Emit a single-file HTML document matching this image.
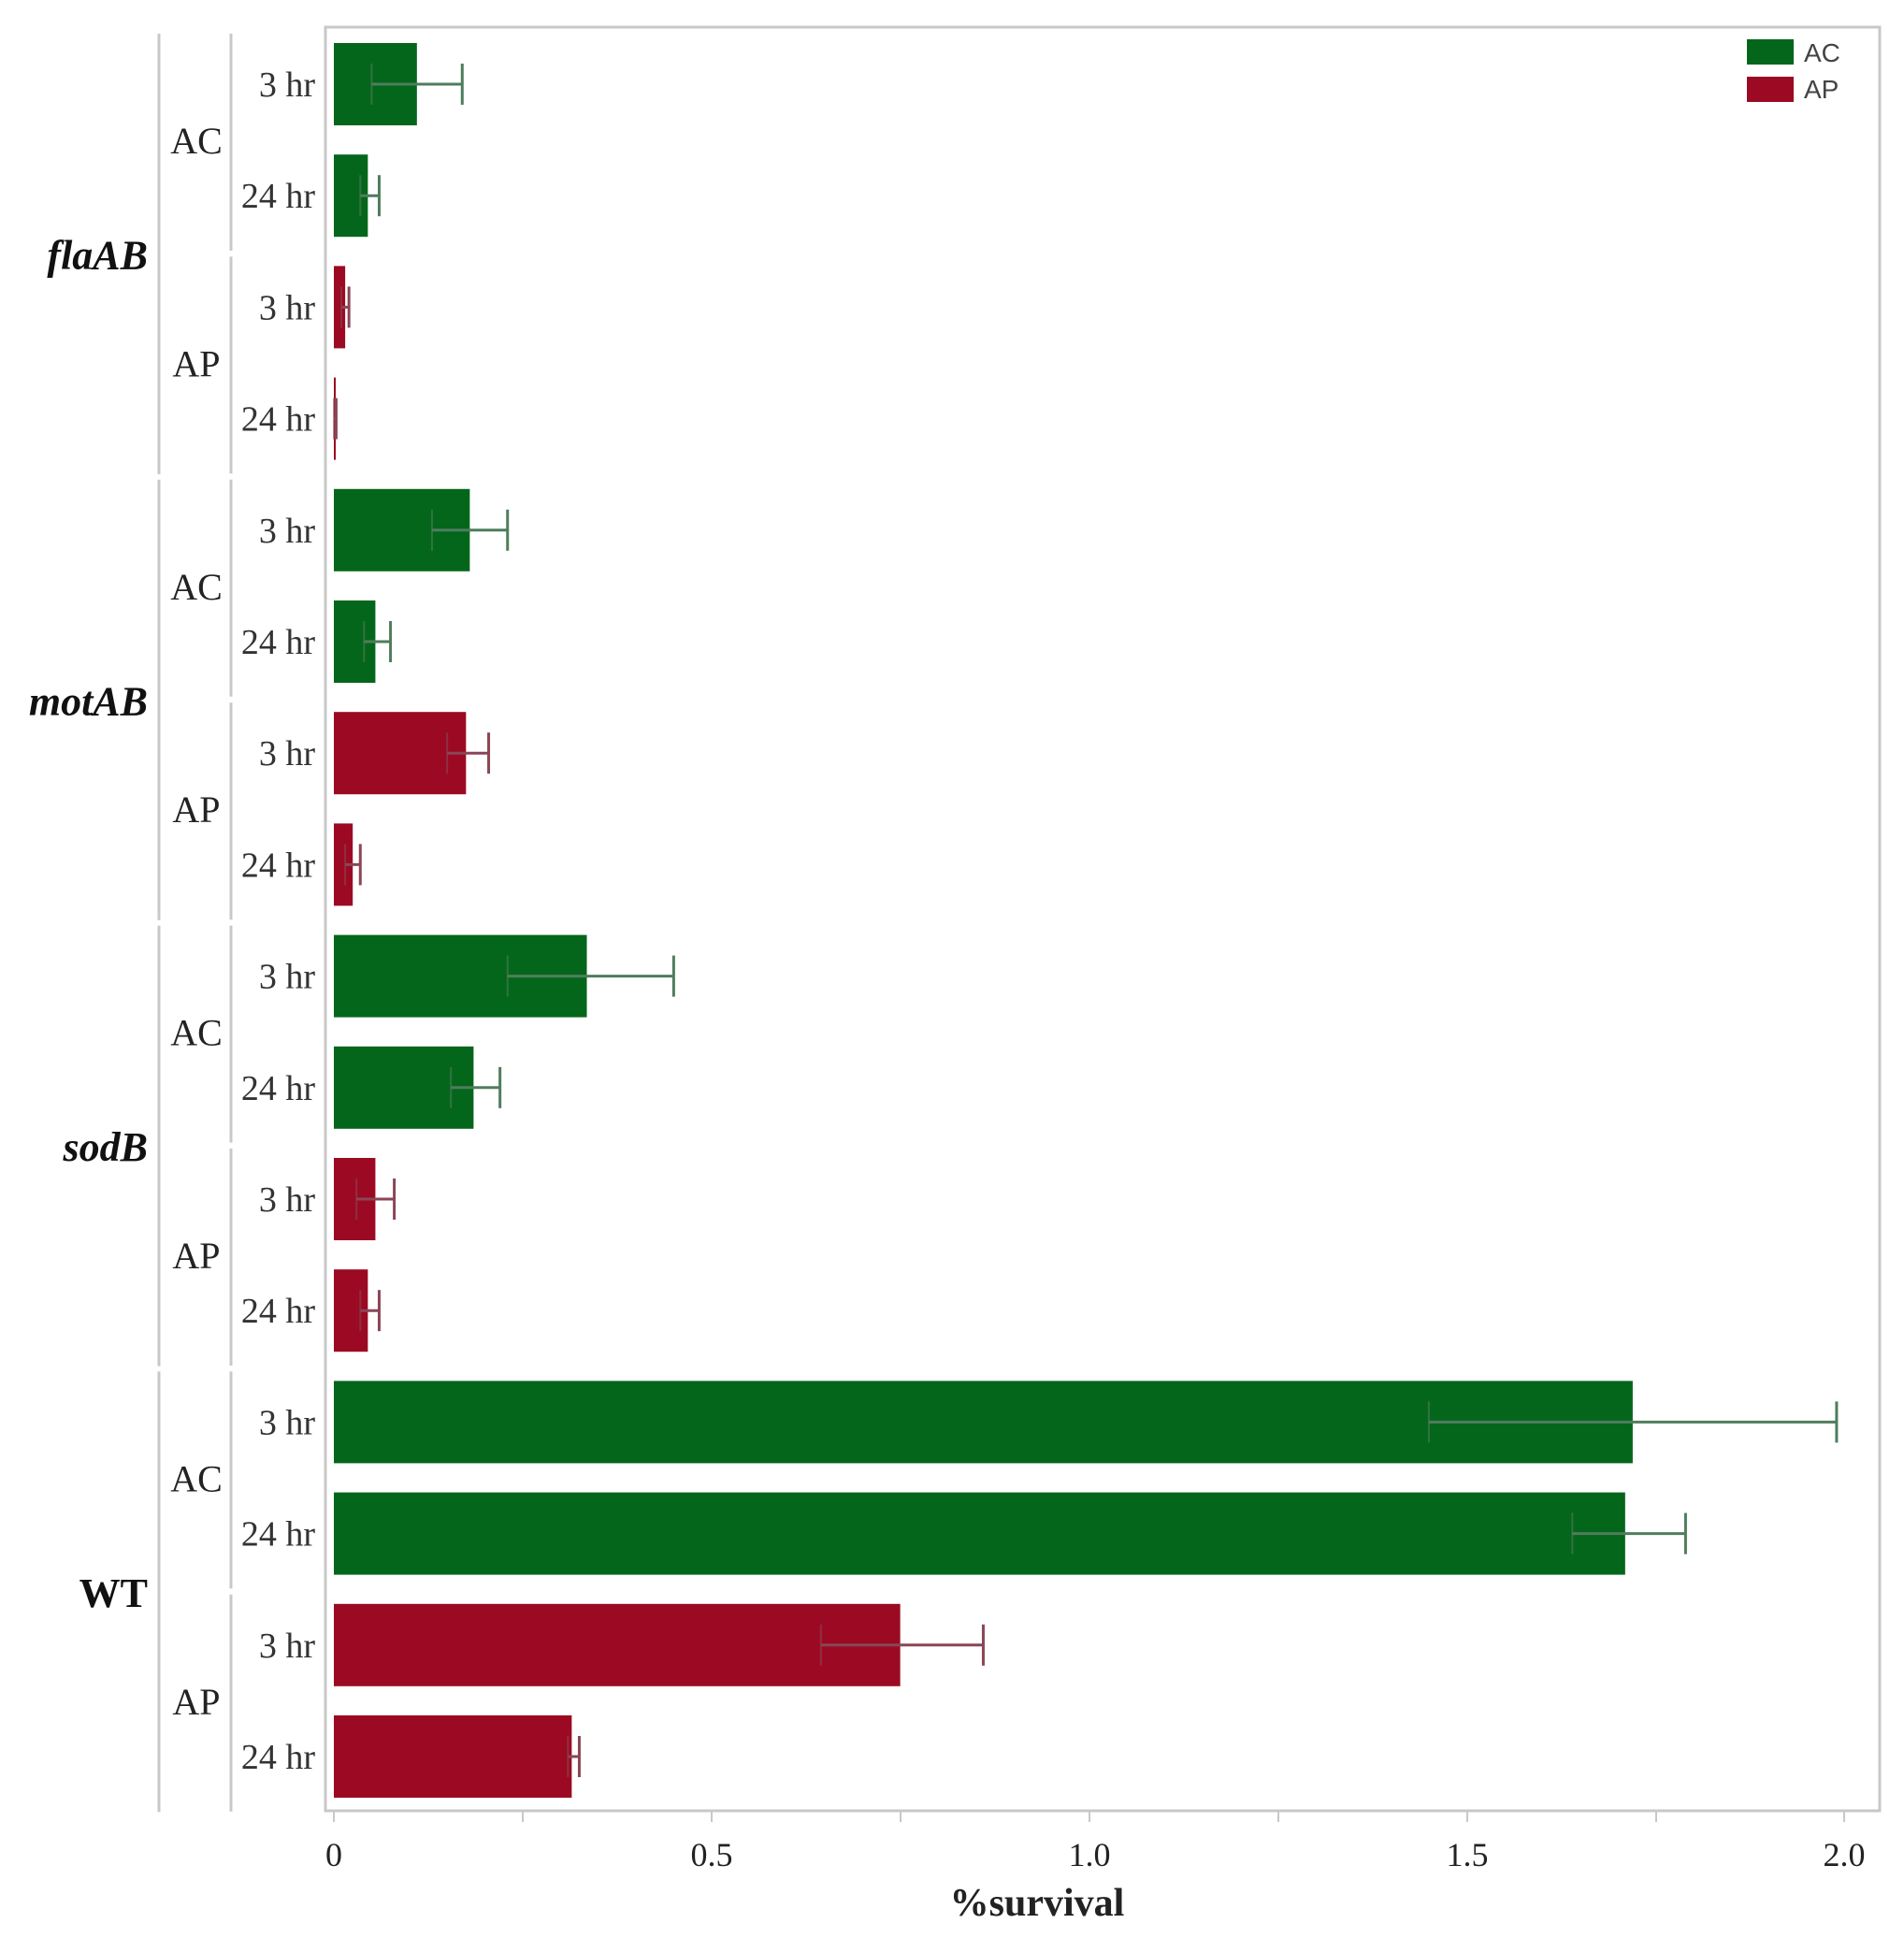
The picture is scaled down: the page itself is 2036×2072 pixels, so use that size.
<!DOCTYPE html>
<html><head><meta charset="utf-8"><style>
html,body{margin:0;padding:0;background:#fff}
svg{display:block}
text{font-family:"Liberation Serif",serif}
</style></head><body>
<svg width="2036" height="2072" viewBox="0 0 2036 2072" xmlns="http://www.w3.org/2000/svg">
<rect x="0" y="0" width="2036" height="2072" fill="#fff"/>
<rect x="348" y="29" width="1662" height="1907" fill="none" stroke="#c8c8c8" stroke-width="3"/>
<g id="bars"></g>
<g stroke="#c8c8c8" stroke-width="2">
<line x1="357" y1="1936" x2="357" y2="1948"/><line x1="559" y1="1936" x2="559" y2="1948"/>
<line x1="761" y1="1936" x2="761" y2="1948"/><line x1="963" y1="1936" x2="963" y2="1948"/>
<line x1="1165" y1="1936" x2="1165" y2="1948"/><line x1="1367" y1="1936" x2="1367" y2="1948"/>
<line x1="1569" y1="1936" x2="1569" y2="1948"/><line x1="1771" y1="1936" x2="1771" y2="1948"/>
<line x1="1972" y1="1936" x2="1972" y2="1948"/>
</g>
<g font-size="36" fill="#222" text-anchor="middle">
<text x="357" y="1995">0</text><text x="761" y="1995">0.5</text><text x="1165" y="1995">1.0</text><text x="1569" y="1995">1.5</text><text x="1972" y="1995">2.0</text>
</g>
<text x="1109" y="2048" font-size="42" font-weight="bold" text-anchor="middle" fill="#222">%survival</text>
<rect x="1868" y="42" width="50" height="27" fill="#04661a"/>
<rect x="1868" y="82" width="50" height="27" fill="#9b0a22"/>
<g font-size="28" fill="#444"><text x="1929" y="66" style="font-family:'Liberation Sans',sans-serif">AC</text><text x="1929" y="105" style="font-family:'Liberation Sans',sans-serif">AP</text></g>
<g id="labels"></g>
</svg>
<script>
var vals=[[.11,.05,.17],[.045,.035,.06],[.015,.01,.02],[.002,0,.003],
[.18,.13,.23],[.055,.04,.075],[.175,.15,.205],[.025,.015,.035],
[.335,.23,.45],[.185,.155,.22],[.055,.03,.08],[.045,.035,.06],
[1.72,1.45,1.99],[1.71,1.64,1.79],[.75,.645,.86],[.315,.31,.325]];
var ns="http://www.w3.org/2000/svg",g=document.getElementById('bars'),L=document.getElementById('labels');
function el(p,t,a,txt){var e=document.createElementNS(ns,t);for(var k in a)e.setAttribute(k,a[k]);if(txt)e.textContent=txt;p.appendChild(e);return e}
function X(v){return 357+v*807.5}
for(var i=0;i<16;i++){var c=90+i*119.2,ac=(i%4)<2,col=ac?'#04661a':'#9b0a22',ec=ac?'#4f7d5d':'#8a4656';
var v=vals[i];el(g,'rect',{x:357,y:c-44,width:Math.max(2,X(v[0])-357),height:88,fill:col});
el(g,'line',{x1:X(v[1]),y1:c,x2:X(v[2]),y2:c,stroke:ec,'stroke-width':3});
el(g,'line',{x1:X(v[2]),y1:c-22,x2:X(v[2]),y2:c+22,stroke:ec,'stroke-width':3});
el(g,'line',{x1:X(v[1]),y1:c-22,x2:X(v[1]),y2:c+22,stroke:ec,'stroke-width':2,opacity:.6});
el(L,'text',{x:337,y:c+13,'font-size':38,'text-anchor':'end',fill:'#333'},i%2?'24 hr':'3 hr');}
for(var j=0;j<8;j++){var t=36+j*238.4,b=t+232;el(L,'line',{x1:247,y1:t,x2:247,y2:b,stroke:'#c8c8c8','stroke-width':3});
el(L,'text',{x:210,y:(t+b)/2+12,'font-size':40,'text-anchor':'middle',fill:'#222'},j%2?'AP':'AC');}
var gn=['flaAB','motAB','sodB','WT'];
for(var k=0;k<4;k++){var t=36+k*476.8,b=t+471;el(L,'line',{x1:170,y1:t,x2:170,y2:b,stroke:'#c8c8c8','stroke-width':3});
el(L,'text',{x:158,y:(t+b)/2+16,'font-size':44,'text-anchor':'end','font-weight':'bold','font-style':k<3?'italic':'normal',fill:'#111'},gn[k]);}
</script>
</body></html>
